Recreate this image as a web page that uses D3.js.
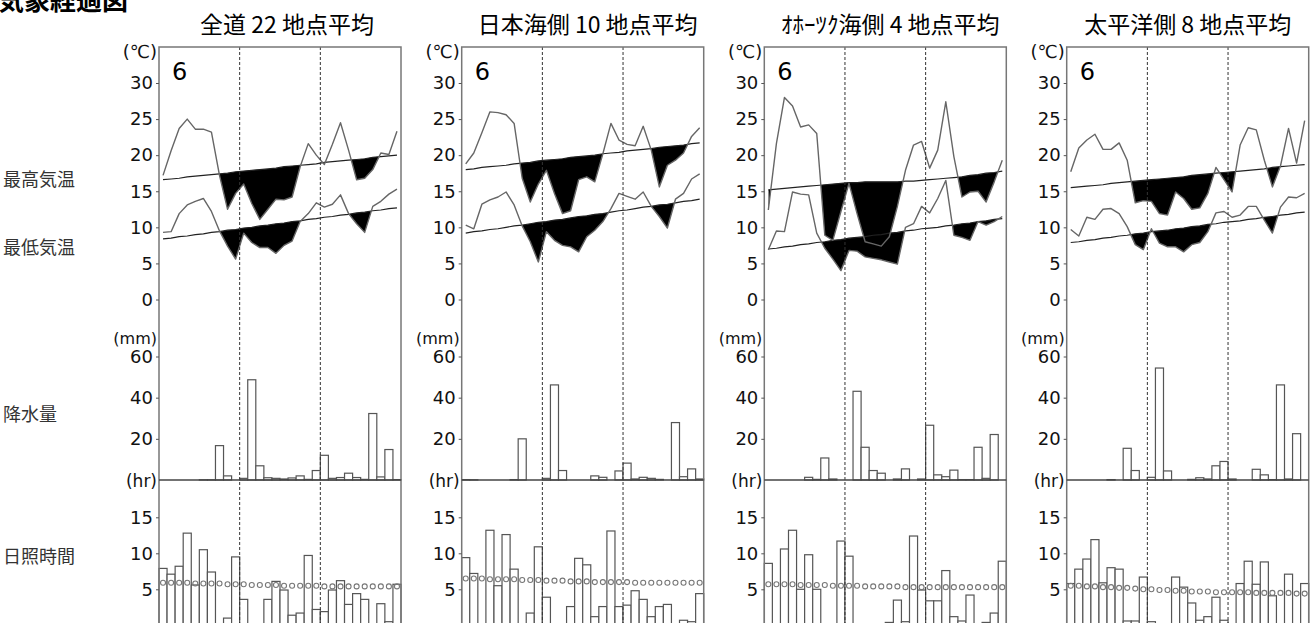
<!DOCTYPE html>
<html><head><meta charset="utf-8">
<script src="https://cdn.jsdelivr.net/npm/d3@7"></script>
<style>body{margin:0;background:#fff}svg{display:block}</style>
</head><body>
<script>
// ---- data: June daily values, 30 days ----
const days = d3.range(1, 31);
const pageTitle = "気象経過図";
const monthLabel = "6";
const panelTitles = ["全道 22 地点平均", "日本海側 10 地点平均", "ｵﾎｰﾂｸ海側 4 地点平均", "太平洋側 8 地点平均"];
const rowLabels = ["最高気温", "最低気温", "降水量", "日照時間"];
const tempTicks = [0, 5, 10, 15, 20, 25, 30];
const precipTicks = [20, 40, 60];
const sunTicks = [5, 10, 15];

// 全道
const allMax = [17.2,20.6,23.7,25.0,23.6,23.6,23.2,17.2,12.5,14.7,16.0,13.3,11.1,12.5,13.9,13.8,14.2,18.4,21.6,20.0,18.7,21.5,24.5,20.7,16.6,16.8,18.0,20.3,20.1,23.3];
const allMaxNormal = [16.6,16.7,16.8,17.0,17.1,17.2,17.3,17.4,17.5,17.7,17.8,17.9,18.0,18.1,18.2,18.4,18.5,18.6,18.7,18.8,19.0,19.1,19.2,19.3,19.4,19.5,19.7,19.8,19.9,20.0];
const allMin = [9.3,9.4,11.9,13.1,13.6,14.0,12.2,9.5,7.4,5.6,9.2,7.9,7.2,7.2,6.4,7.5,8.1,10.8,11.9,13.4,12.8,13.2,14.5,11.9,10.5,9.3,12.9,13.6,14.6,15.3];
const allMinNormal = [8.4,8.5,8.7,8.8,9.0,9.1,9.3,9.4,9.6,9.7,9.9,10.0,10.2,10.3,10.5,10.6,10.8,10.9,11.1,11.2,11.4,11.5,11.7,11.8,12.0,12.1,12.3,12.4,12.6,12.7];
const allPrecip = [0,0,0,0,0,0.1,0.1,16.7,2.0,0,0.8,48.7,6.9,1.1,0.8,0.5,1.0,2.0,0.3,4.6,12.0,0.8,1.2,3.3,1.2,0.3,32.3,1.5,14.8,0.2];
const allSun = [7.9,7.1,8.2,12.8,5.6,10.5,7.4,0,1.0,9.5,3.6,0,0,3.6,6.1,4.9,1.4,1.7,9.7,2.2,1.9,4.9,6.2,2.9,4.4,3.6,0,3.0,0.5,5.7];
const allSunNormal = [5.9,5.9,5.9,5.9,5.8,5.8,5.8,5.8,5.7,5.7,5.7,5.6,5.6,5.6,5.6,5.5,5.5,5.5,5.5,5.5,5.4,5.4,5.4,5.4,5.4,5.4,5.4,5.4,5.4,5.4];

// 日本海側
const japanSeaMax = [18.8,20.3,23.1,26.0,25.9,25.6,24.4,16.8,13.5,16.0,17.9,14.7,11.9,12.3,16.6,17.0,16.3,20.2,24.4,22.1,21.5,21.3,24.0,20.7,15.6,18.6,19.3,20.3,22.6,23.8];
const japanSeaMaxNormal = [18.0,18.1,18.3,18.4,18.5,18.6,18.8,18.9,19.0,19.2,19.3,19.4,19.5,19.7,19.8,19.9,20.0,20.2,20.3,20.4,20.6,20.7,20.8,20.9,21.1,21.2,21.3,21.4,21.6,21.7];
const japanSeaMin = [10.3,9.8,13.2,13.8,14.2,14.9,13.1,10.2,8.0,5.2,9.4,8.2,7.5,7.3,6.6,8.7,9.6,10.8,12.6,14.7,14.3,13.9,14.9,12.9,11.5,9.9,13.9,14.7,16.7,17.4];
const japanSeaMinNormal = [9.2,9.4,9.5,9.7,9.8,10.0,10.2,10.3,10.5,10.7,10.8,11.0,11.1,11.3,11.5,11.6,11.8,11.9,12.1,12.3,12.4,12.6,12.8,12.9,13.1,13.2,13.4,13.6,13.7,13.9];
const japanSeaPrecip = [0.2,0.1,0,0,0,0,0.2,20.0,0,0,0.8,46.2,4.6,0,0,0,2.0,1.3,0,4.4,8.2,0.5,1.3,0.8,0.3,0,27.9,1.6,5.4,0.5];
const japanSeaSun = [9.4,7.2,0,13.2,5.5,12.6,7.8,0,1.7,10.9,3.9,0,0,2.6,9.3,8.4,1.2,2.6,13.1,2.6,2.8,4.8,3.6,1.2,2.6,2.9,0,0.7,0.5,4.4];
const japanSeaSunNormal = [6.5,6.5,6.5,6.4,6.4,6.4,6.4,6.3,6.3,6.3,6.2,6.2,6.2,6.1,6.1,6.1,6.0,6.0,6.0,6.0,6.0,5.9,5.9,5.9,5.9,5.9,5.9,5.9,5.9,5.9];

// オホーツク海側
const okhotskMax = [12.4,21.6,28.0,26.8,23.9,24.2,23.0,8.9,8.2,12.2,16.1,11.9,8.0,7.7,7.4,8.7,12.9,17.9,21.4,21.9,18.2,20.7,27.4,19.8,14.2,14.9,15.0,13.5,16.3,19.3];
const okhotskMaxNormal = [15.2,15.3,15.4,15.5,15.6,15.7,15.8,15.9,16.0,16.1,16.2,16.2,16.3,16.3,16.3,16.3,16.3,16.4,16.4,16.5,16.6,16.7,16.8,16.9,17.0,17.2,17.3,17.5,17.6,17.8];
const okhotskMin = [6.9,9.5,9.4,14.9,14.6,14.5,9.2,7.1,5.6,4.0,6.8,6.7,5.9,5.7,5.5,5.2,4.9,10.0,10.5,12.9,12.0,14.0,16.5,8.9,8.6,8.2,10.8,10.3,10.8,11.5];
const okhotskMinNormal = [7.0,7.1,7.3,7.4,7.6,7.7,7.9,8.0,8.2,8.3,8.5,8.6,8.7,8.9,9.0,9.2,9.3,9.5,9.6,9.8,9.9,10.0,10.2,10.3,10.5,10.6,10.8,10.9,11.1,11.2];
const okhotskPrecip = [0,0,0,0,0,1.3,0.3,10.7,0.5,0,0,43.1,15.9,4.6,3.3,0,0.5,5.4,0,0.5,26.6,2.5,1.6,4.8,0.2,0.2,15.9,0.8,22.1,0];
const okhotskSun = [8.6,0,10.6,13.2,5.0,9.8,5.0,0,0,11.7,9.6,0,0,0,0,0.4,3.5,0.5,12.4,4.9,3.4,3.4,7.6,1.2,0.6,4.2,0,0.4,1.7,8.9];
const okhotskSunNormal = [5.7,5.7,5.7,5.7,5.6,5.6,5.6,5.6,5.5,5.5,5.5,5.5,5.4,5.4,5.4,5.4,5.4,5.3,5.3,5.3,5.3,5.3,5.3,5.3,5.3,5.3,5.3,5.3,5.3,5.3];

// 太平洋側
const pacificMax = [17.7,21.0,22.1,22.9,20.8,20.8,21.7,19.3,13.4,13.7,13.6,11.9,11.7,14.9,14.0,12.5,12.7,14.7,18.3,16.6,14.9,21.4,23.8,23.5,19.3,15.6,18.5,23.7,18.9,24.8];
const pacificMaxNormal = [15.5,15.6,15.7,15.8,15.9,16.1,16.2,16.3,16.4,16.5,16.6,16.7,16.8,16.9,17.0,17.2,17.3,17.4,17.5,17.6,17.7,17.8,17.9,18.0,18.1,18.3,18.4,18.5,18.6,18.7];
const pacificMin = [9.7,8.8,11.4,11.1,12.5,12.6,11.9,10.1,7.6,6.9,9.8,7.8,7.3,7.3,6.6,7.6,7.9,9.4,12.0,12.2,11.4,11.7,12.9,12.9,11.0,9.2,12.8,14.2,14.1,14.7];
const pacificMinNormal = [7.9,8.0,8.2,8.3,8.5,8.6,8.8,8.9,9.1,9.2,9.4,9.5,9.6,9.8,9.9,10.1,10.2,10.4,10.5,10.7,10.8,10.9,11.1,11.2,11.4,11.5,11.7,11.8,12.0,12.1];
const pacificPrecip = [0,0,0,0,0,0.2,0,15.4,4.6,0,1.3,54.4,4.4,0,0,0.3,1.1,0.5,6.9,9.0,0.5,0,0,5.2,2.5,0.2,46.2,0.5,22.5,0];
const pacificSun = [5.8,7.8,9.2,11.9,5.9,8.0,7.8,0.6,0.6,6.7,0.5,0,0,6.7,5.3,3.1,0.7,1.2,3.9,0.7,0,5.8,8.9,5.7,8.8,4.1,0,7.1,0,5.8];
const pacificSunNormal = [5.5,5.5,5.4,5.4,5.3,5.3,5.2,5.2,5.1,5.0,5.0,4.9,4.9,4.8,4.8,4.7,4.7,4.7,4.6,4.6,4.6,4.6,4.6,4.5,4.5,4.5,4.5,4.5,4.4,4.4];

const regions = [
  {max: allMax, maxN: allMaxNormal, min: allMin, minN: allMinNormal, prec: allPrecip, sun: allSun, sunN: allSunNormal},
  {max: japanSeaMax, maxN: japanSeaMaxNormal, min: japanSeaMin, minN: japanSeaMinNormal, prec: japanSeaPrecip, sun: japanSeaSun, sunN: japanSeaSunNormal},
  {max: okhotskMax, maxN: okhotskMaxNormal, min: okhotskMin, minN: okhotskMinNormal, prec: okhotskPrecip, sun: okhotskSun, sunN: okhotskSunNormal},
  {max: pacificMax, maxN: pacificMaxNormal, min: pacificMin, minN: pacificMinNormal, prec: pacificPrecip, sun: pacificSun, sunN: pacificSunNormal}
];

// ---- layout ----
const W = 1314, H = 623;
const panelLeft = [159, 461.7, 764.3, 1066.7];
const panelW = 242;
const frameTop = 47, frameBottom = 660;
const titleShift = [7, 5, 5, 0];

const yTemp = d3.scaleLinear().domain([0, 30]).range([299.5, 83]);
const yPrec = d3.scaleLinear().domain([0, 60]).range([480, 356.5]);
const ySun = d3.scaleLinear().domain([0, 15]).range([625.3, 517.3]);

const numFont = "'DejaVu Sans', sans-serif";
const jpFont = "'Noto Sans CJK JP', sans-serif";

const svg = d3.select("body").append("svg").attr("width", W).attr("height", H);
const defs = svg.append("defs");

// page heading, clipped by the top edge
svg.append("text").attr("x", -2).attr("y", 10)
  .attr("font-family", jpFont).attr("font-weight", 700).attr("font-size", 26)
  .attr("fill", "#000").text(pageTitle);

// row labels on the far left
const rowY = [178, 246, 413, 555];
svg.selectAll("text.row").data(rowLabels).join("text").attr("class", "row")
  .attr("x", 3).attr("y", (d, i) => rowY[i]).attr("dominant-baseline", "central")
  .attr("font-family", jpFont).attr("font-size", 18).attr("fill", "#333")
  .text(d => d);

regions.forEach((r, pi) => {
  const L = panelLeft[pi], R = L + panelW;
  const x = d3.scaleBand().domain(days).range([L, R]).padding(0);
  const bw = x.bandwidth();
  const cx = d => x(d) + bw / 2;
  const g = svg.append("g");

  // title
  g.append("text").attr("x", (L + R) / 2 + titleShift[pi]).attr("y", 23)
    .attr("text-anchor", "middle").attr("dominant-baseline", "central")
    .attr("font-family", jpFont).attr("font-size", 23).attr("fill", "#000")
    .text(panelTitles[pi]);

  // ---- temperature: shaded where below normal ----
  const tempSeries = [[r.max, r.maxN], [r.min, r.minN]];
  tempSeries.forEach(([act, nor], si) => {
    const id = `clip-${pi}-${si}`;
    defs.append("clipPath").attr("id", id).append("path")
      .attr("d", d3.area().x(d => cx(d)).y0((d, i) => yTemp(nor[i])).y1(yTemp(-6))(days));
    g.append("path").attr("clip-path", `url(#${id})`)
      .attr("d", d3.area().x(d => cx(d)).y0(frameTop).y1((d, i) => yTemp(act[i]))(days))
      .attr("fill", "#000");
  });
  tempSeries.forEach(([act, nor]) => {
    g.append("path").attr("d", d3.line().x(d => cx(d)).y((d, i) => yTemp(nor[i]))(days))
      .attr("fill", "none").attr("stroke", "#222").attr("stroke-width", 1.2);
  });
  tempSeries.forEach(([act, nor]) => {
    g.append("path").attr("d", d3.line().x(d => cx(d)).y((d, i) => yTemp(act[i]))(days))
      .attr("fill", "none").attr("stroke", "#666").attr("stroke-width", 1.4)
      .attr("stroke-linejoin", "round");
  });

  // ---- precipitation bars ----
  g.selectAll("rect.prec").data(days).join("rect").attr("class", "prec")
    .attr("x", d => x(d)).attr("width", bw)
    .attr("y", (d, i) => yPrec(r.prec[i])).attr("height", (d, i) => yPrec(0) - yPrec(r.prec[i]))
    .attr("fill", "#fff").attr("stroke", "#555").attr("stroke-width", 1.2);

  // ---- sunshine bars ----
  g.selectAll("rect.sun").data(days).join("rect").attr("class", "sun")
    .attr("x", d => x(d)).attr("width", bw)
    .attr("y", (d, i) => ySun(r.sun[i])).attr("height", (d, i) => ySun(0) - ySun(r.sun[i]))
    .attr("fill", "#fff").attr("stroke", "#555").attr("stroke-width", 1.2);

  // sunshine normal (circles)
  g.selectAll("circle.sn").data(days).join("circle").attr("class", "sn")
    .attr("cx", d => cx(d)).attr("cy", (d, i) => ySun(r.sunN[i])).attr("r", 2.5)
    .attr("fill", "none").attr("stroke", "#777").attr("stroke-width", 1.1);

  // dekad separators
  [10, 20].forEach(d => {
    g.append("line").attr("x1", x(d) + bw).attr("x2", x(d) + bw)
      .attr("y1", frameTop).attr("y2", frameBottom)
      .attr("stroke", "#333").attr("stroke-width", 1).attr("stroke-dasharray", "3,2");
  });

  // frame and precipitation baseline
  g.append("rect").attr("x", L).attr("y", frameTop).attr("width", panelW).attr("height", frameBottom - frameTop)
    .attr("fill", "none").attr("stroke", "#777").attr("stroke-width", 1.5);
  g.append("line").attr("x1", L).attr("x2", R).attr("y1", yPrec(0)).attr("y2", yPrec(0))
    .attr("stroke", "#444").attr("stroke-width", 1.5);

  // axes
  const axisStyle = sel => {
    sel.select(".domain").remove();
    sel.selectAll(".tick line").attr("stroke", "#555");
    sel.selectAll(".tick text").attr("font-family", numFont).attr("font-size", 18).attr("fill", "#111");
  };
  g.append("g").attr("transform", `translate(${L},0)`)
    .call(d3.axisLeft(yTemp).tickValues(tempTicks).tickSize(3).tickPadding(3)).call(axisStyle);
  g.append("g").attr("transform", `translate(${L},0)`)
    .call(d3.axisLeft(yPrec).tickValues(precipTicks).tickSize(3).tickPadding(3)).call(axisStyle);
  g.append("g").attr("transform", `translate(${L},0)`)
    .call(d3.axisLeft(ySun).tickValues(sunTicks).tickSize(3).tickPadding(3)).call(axisStyle);

  // unit labels
  const unit = (txt, y, size) => g.append("text").attr("x", L - 2).attr("y", y)
    .attr("text-anchor", "end").attr("dominant-baseline", "central")
    .attr("font-family", numFont).attr("font-size", size).attr("fill", "#111").text(txt);
  unit("(℃)", 51, 18);
  unit("(mm)", 338, 16);
  unit("(hr)", 481, 17);

  // month label
  g.append("text").attr("x", L + 13).attr("y", 72).attr("dominant-baseline", "central")
    .attr("font-family", numFont).attr("font-size", 24).attr("fill", "#000").text(monthLabel);
});
</script>
</body></html>
